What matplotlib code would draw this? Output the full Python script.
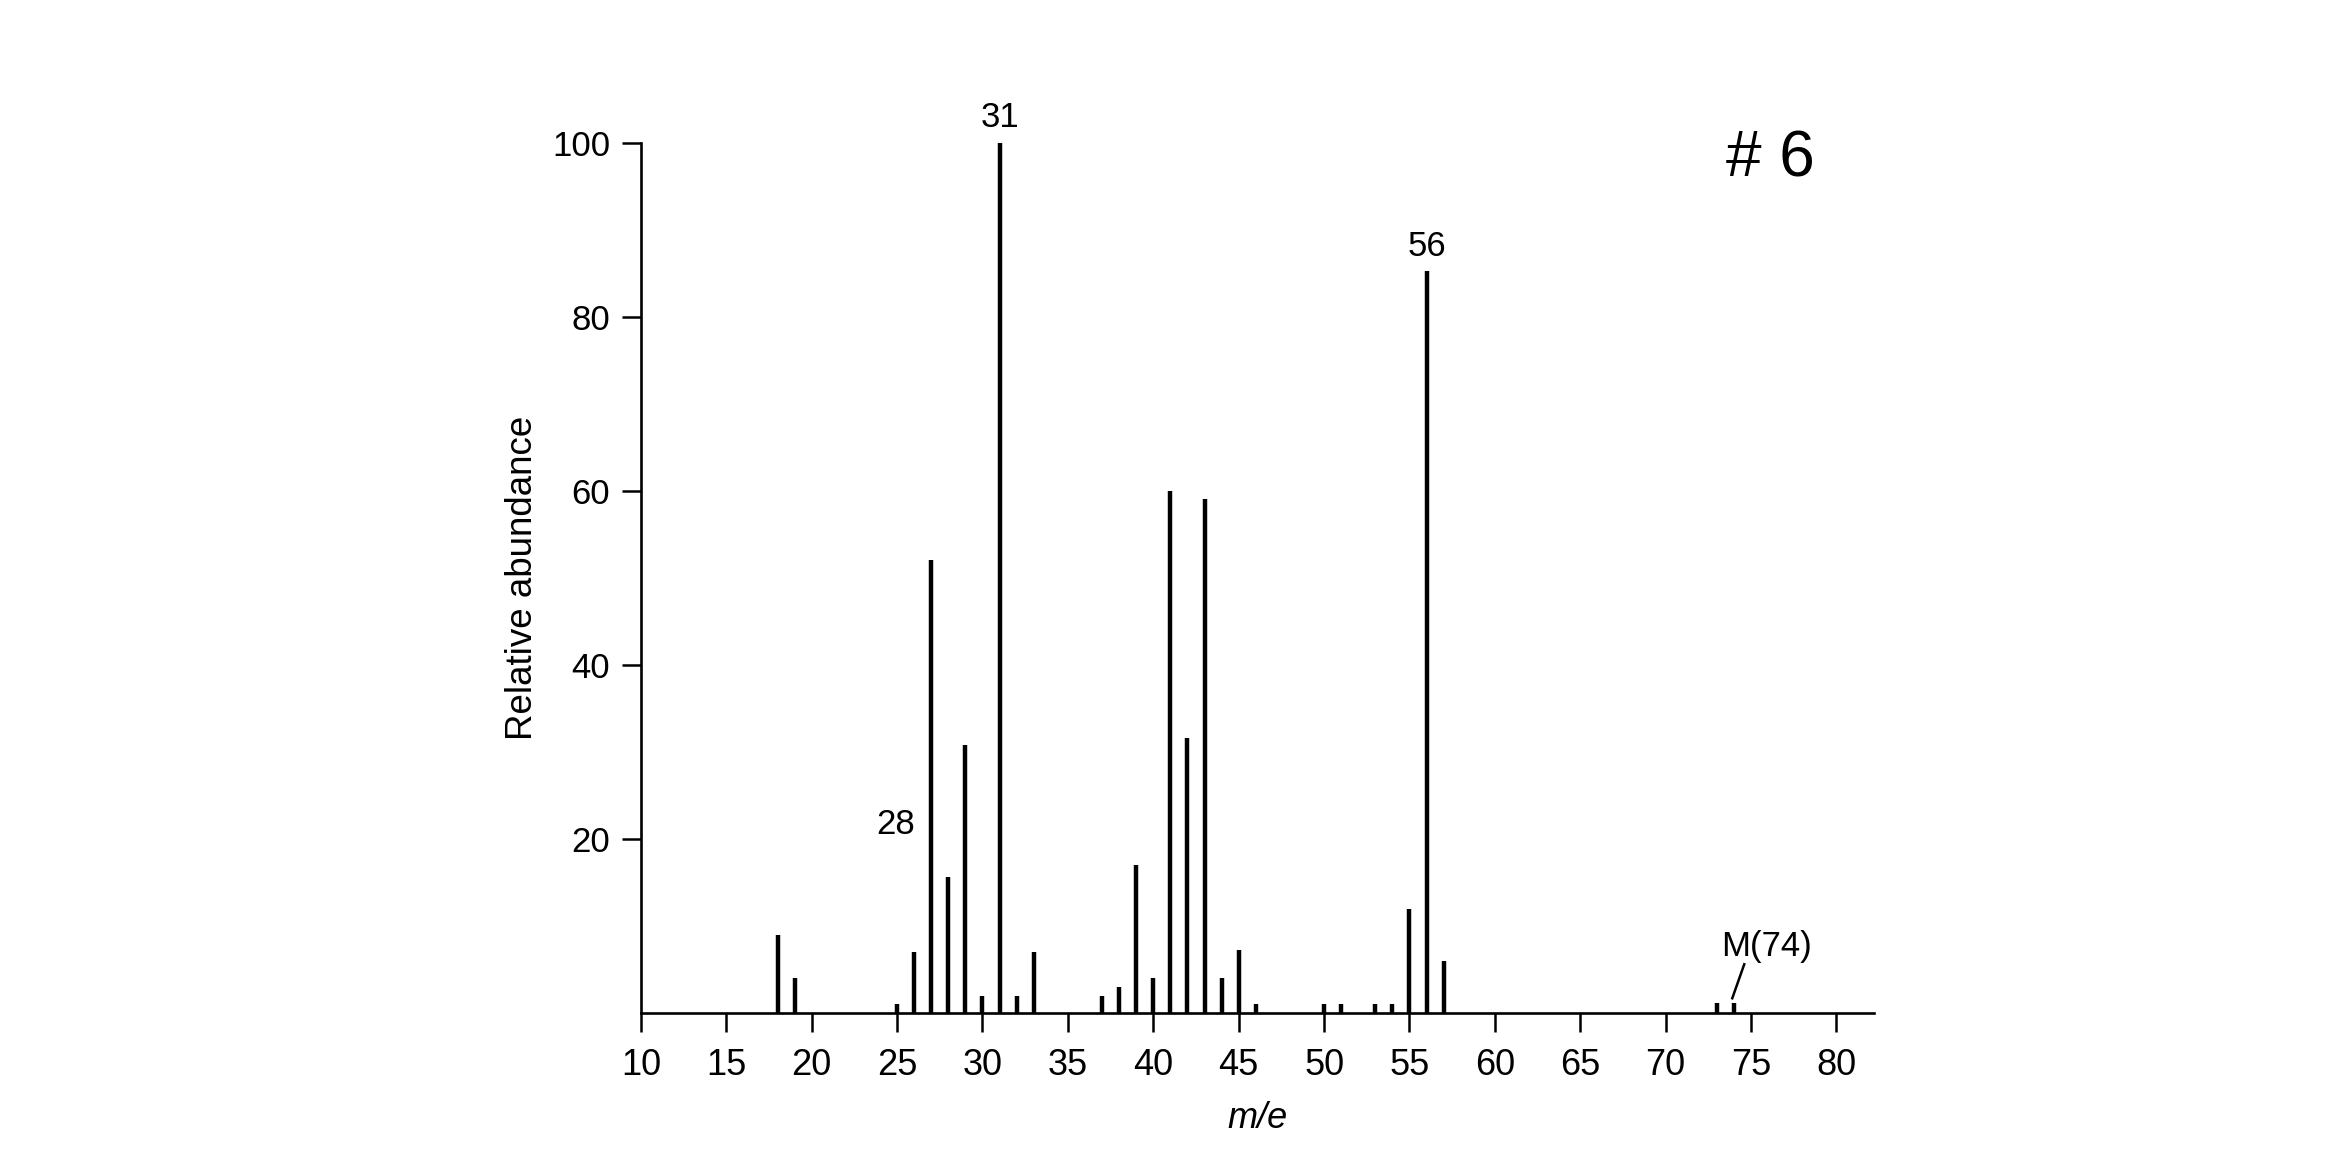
import numpy as np
import matplotlib
matplotlib.use("Agg")
import matplotlib.pyplot as plt

plt.rcParams['font.family'] = ['Liberation Sans', 'DejaVu Sans']

# peaks
mass = [18, 19, 25, 26, 27, 28, 29, 30, 31, 32, 33,
        37, 38, 39, 40, 41, 42, 43, 44, 45, 46,
        50, 51, 53, 54, 55, 56, 57, 73, 74]
abundance = [9, 4, 1, 7, 52, 15.6, 30.8, 2, 100, 2, 7,
             2, 3, 17, 4, 60, 31.6, 59, 4, 7.2, 1,
             1, 1, 1, 1, 12, 85.2, 6, 1.2, 1.2]

x_ticks = list(range(10, 85, 5))
y_ticks = [20, 40, 60, 80, 100]


def plot_spectrum():
    fig = plt.figure(figsize=(23.28, 11.5), dpi=100)
    ax = fig.add_axes([0.2753, 0.1191, 0.805 - 0.2753, 0.876 - 0.1191])

    ax.vlines(mass, 0, abundance, colors='black', linewidth=3.2)

    ax.set_xlim(10, 82.2)
    ax.set_ylim(0, 100)
    ax.set_xticks(x_ticks)
    ax.set_yticks(y_ticks)

    for side in ['top', 'right']:
        ax.spines[side].set_visible(False)
    ax.spines['left'].set_linewidth(1.9)
    ax.spines['bottom'].set_linewidth(1.9)

    ax.tick_params(axis='x', direction='out', length=14, width=1.8, labelsize=26, pad=11)
    ax.tick_params(axis='y', direction='out', length=14, width=1.8, labelsize=25, pad=8)

    ax.set_xlabel("m/e", fontsize=26, style='italic', labelpad=13)
    ax.set_ylabel("Relative abundance", fontsize=26.5, labelpad=9)

    # peak labels
    ax.text(31, 101, "31", ha='center', va='bottom', fontsize=25)
    ax.text(56, 86.2, "56", ha='center', va='bottom', fontsize=25)
    ax.text(24.9, 21.7, "28", ha='center', va='center', fontsize=25)
    ax.text(75.9, 7.7, "M(74)", ha='center', va='center', fontsize=25)
    ax.plot([73.9, 74.6], [1.7, 5.6], color='black', linewidth=1.8, clip_on=False)

    fig.text(0.7605, 0.861, "# 6", ha='center', va='center', fontsize=46)

    fig.savefig("out.png", dpi=100, facecolor='white')


if __name__ == "__main__":
    plot_spectrum()
